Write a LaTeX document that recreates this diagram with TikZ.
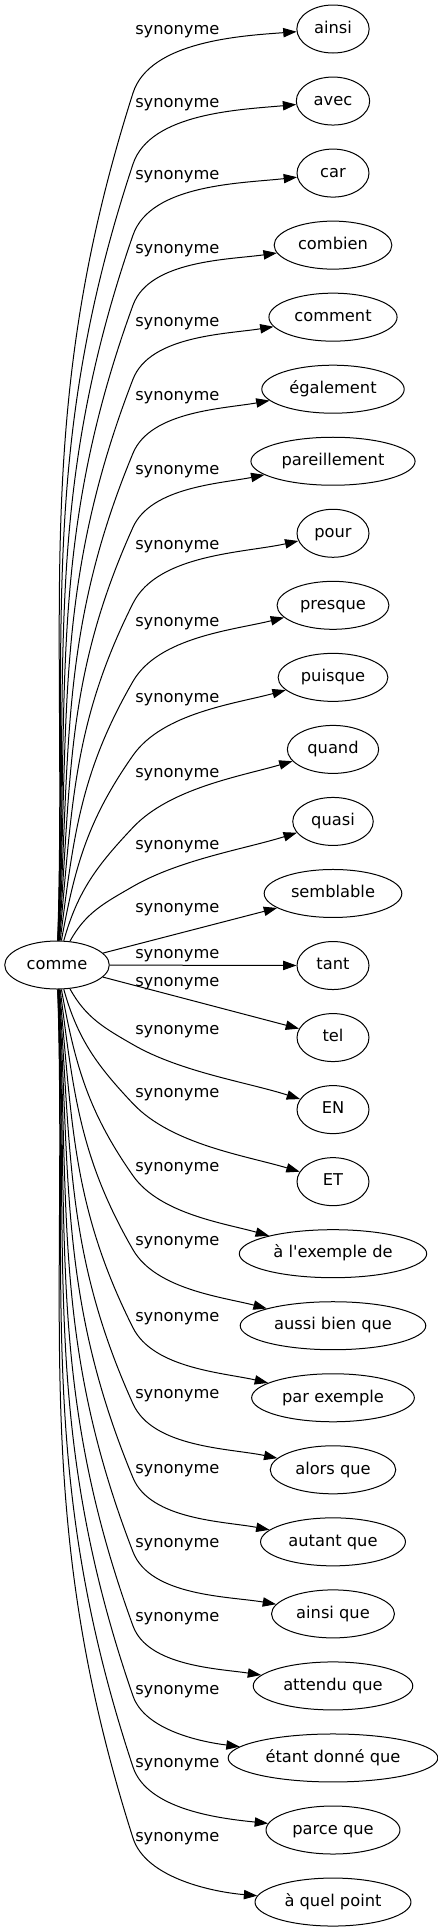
\documentclass[tikz,border=0pt]{standalone}
\usepackage{fontspec}
\setmainfont{DejaVu Sans}
\usetikzlibrary{arrows.meta,shapes.geometric}
\protected\def\apos{\textquotesingle}
\tikzset{
  mot/.style={draw,ellipse,line width=.75pt,inner xsep=5pt,inner ysep=0pt,minimum width=54pt,minimum height=36pt,text height=.76em,text depth=.24em},
  rel/.style={anchor=west,inner sep=0pt,text height=.76em,text depth=.24em},
  lien/.style={line width=.75pt,-{Triangle[length=10pt,width=7pt]}}
}
\begin{document}
\fontsize{12.2}{14.6}\selectfont
\begin{tikzpicture}[x=.75pt,y=-.75pt]
\useasboundingbox (0,0) rectangle (437,1931);
% mot de depart
\node[mot] (comme) at (57,965) {comme};
% synonymes
\foreach \w [count=\k from 0] in {ainsi,avec,car,combien,comment,également,pareillement,pour,presque,puisque,quand,quasi,semblable,tant,tel,EN,ET,à l\apos exemple de,aussi bien que,par exemple,alors que,autant que,ainsi que,attendu que,étant donné que,parce que,à quel point}{
  \pgfmathsetmacro\yt{29+72.04*\k}
  \node[mot] (n\k) at (333,\yt) {\w};
}
% etiquettes
\foreach \ly [count=\i from 0] in {30,103,175,249,322,396,470,545,622,698,773,845,908,954,982,1030,1093,1167,1241,1317,1394,1469,1543,1617,1690,1763,1837}{
  \node[rel] (l\i) at (135,\ly) {synonyme};
}
% liens
\foreach \k in {0,...,26}{
  \pgfmathtruncatemacro\n{abs(13-\k)}
  \ifnum\n<2
    \draw[lien] (comme) -- (n\k);
  \else
    \pgfmathsetmacro\s{sign(13-\k)}
    \pgfmathsetmacro\yb{29+72.04*\k+\s*{0,0,65,78,78,76,70,66,64,62,60,62,63,64}[\n]}
    \pgfmathsetmacro\aa{\s*(90-80/(\n^1.5))}
    \pgfmathsetmacro\bb{\s*(80-100/\n)}
    \pgfmathsetmacro\cc{\bb+180}
    \pgfmathsetmacro\ee{180+\s*(20-1.2*\n)}
    \coordinate (b\k) at (133,\yb);
    \draw[lien] (comme) to[out=\aa,in=\cc] (b\k) to[out=\bb,in=\ee,looseness=.8] (n\k);
  \fi
}
\end{tikzpicture}
\end{document}
